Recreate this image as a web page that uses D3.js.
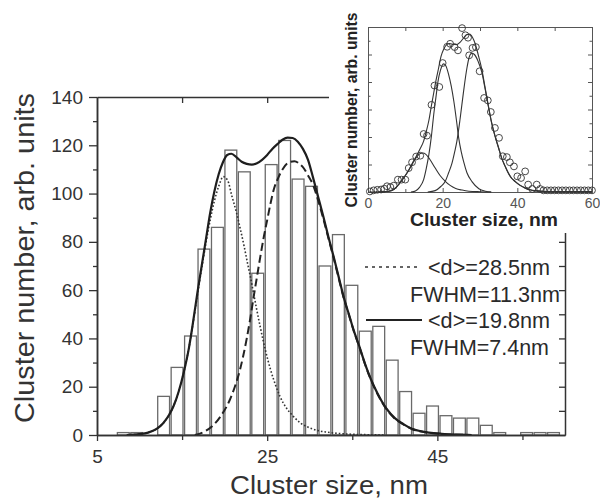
<!DOCTYPE html>
<html>
<head>
<meta charset="utf-8">
<script src="https://cdn.jsdelivr.net/npm/d3@7"></script>
<style>
body{margin:0;background:#fff}
svg{display:block}
text{font-family:"Liberation Sans",Arial,sans-serif}
</style>
</head>
<body>
<svg width="600" height="501"></svg>
<script>
// histogram bins (nm) and counts
const binEdges = [7.30, 8.88, 10.46, 12.04, 13.62, 15.20, 16.78, 18.36, 19.94, 21.52, 23.10, 24.68, 26.26, 27.84, 29.42, 31.00, 32.58, 34.16, 35.74, 37.32, 38.90, 40.48, 42.06, 43.64, 45.22, 46.80, 48.38, 49.96, 51.54, 53.12, 54.70, 56.28, 57.86, 59.44];
const counts = [1, 1, 0, 16, 28, 41, 77, 86, 118, 109, 67, 112, 122, 106, 103, 70, 83, 62, 43, 45, 31, 18, 9, 12, 8, 7, 7, 4, 1, 0, 1, 1, 1];

// fitted curves [size, count]
const sumCurve = [[8.5,0],[10,0.4],[11,1],[12,2.5],[12.8,5],[13.5,8.5],[14,12],[14.6,18],[15.2,26],[15.8,36],[16.3,47],[16.8,59],[17.3,70],[17.8,81],[18.3,92],[18.8,101],[19.3,108],[19.8,113],[20.3,116],[20.8,116.5],[21.4,115],[22,113.2],[22.6,112.3],[23.2,112],[23.8,112.6],[24.4,114],[25,116],[25.6,118.5],[26.2,120.5],[26.8,122.3],[27.4,123.2],[28,123],[28.6,121.5],[29.2,118.5],[29.8,114],[30.4,106.5],[31,98.5],[31.6,90.5],[32.2,82],[32.8,74],[33.4,65.5],[34,57],[34.6,50],[35.2,43],[35.8,37],[36.5,29.5],[37.2,23],[38,17],[39,11],[40,7],[41,4.5],[42,2.6],[43,1.6],[44,1],[45.5,0.5],[47.5,0.15],[49,0]];
const dashCurve = [[16.5,0],[17.5,1.2],[18.5,3.5],[19.5,7.6],[20.6,14.5],[21.2,20],[21.8,27],[22.2,33],[22.6,40],[23,48],[23.4,57],[23.8,65.5],[24.2,74],[24.6,82],[25,89],[25.4,96],[25.8,102],[26.3,106.5],[26.8,110],[27.5,112.8],[28.2,113.4],[28.8,112.3],[29.3,110.5],[29.8,107.5],[30.4,103.5],[31,97],[31.6,89.5],[32.2,81.5],[32.8,73.5],[33.4,65],[34,56.7],[34.6,49.8],[35.2,42.8],[35.8,36.8],[36.5,29.3],[37.2,22.8],[38,16.8],[39,10.8],[40,6.8],[41,4.4],[42,2.5],[43,1.5],[44,0.9],[45.5,0.4],[47.5,0.1],[49,0]];
const dotCurve = [[8.5,0],[10,0.4],[11,1],[12,2.5],[12.8,5],[13.5,8.5],[14,12],[14.6,18],[15.2,26],[15.8,36],[16.3,46.5],[16.8,58],[17.3,69],[17.8,79.5],[18.3,89],[18.8,97],[19.3,103],[19.85,107],[20.35,105.5],[20.85,99],[21.4,92],[21.8,86],[22.3,78],[22.7,71],[23,66],[23.6,55],[24.2,44.5],[24.8,35],[25.4,27],[26,20.5],[26.5,16],[27.3,11],[28.1,7.6],[28.9,5],[29.7,3.4],[30.8,2],[32,1.2],[33.5,0.6],[35,0.3],[37,0.1],[39,0]];

// axis ticks
const xMajor = [5, 25, 45];
const xMinor = [15, 35, 55];
const xTop = [15, 25, 35, 45, 55];
const yMajor = [0, 20, 40, 60, 80, 100, 120, 140];
const yMinor = [10, 30, 50, 70, 90, 110, 130];
const yRight = [10, 20, 30, 40, 50, 60, 70, 80, 90, 100, 110, 120, 130];

// legend
const legendMean = ["<d>=28.5nm", "<d>=19.8nm"];
const legendFwhm = ["FWHM=11.3nm", "FWHM=7.4nm"];

// inset: measured points and fits (size, arb. units)
const insetX = [0.5,1.5,2.5,3.5,4.4,5.1,6.0,6.9,8.0,9.0,10.0,10.9,11.8,12.9,14.0,14.9,15.8,17.0,17.8,19.1,20.0,21.2,22.0,23.2,24.1,25.2,26.1,26.8,27.1,28.0,28.9,29.9,31.1,32.1,32.9,34.0,35.1,36.1,37.2,38.0,39.1,40.0,41.0,42.1,42.9,44.0,45.2,46.1,47,48,49,50,51,52,53,54,55,56,57,58,59,60];
const insetY = [0.02,0.06,0.08,0.09,0.12,0.21,0.18,0.23,0.45,0.45,0.45,0.87,1.08,1.29,1.32,2.11,2.05,3.17,3.87,3.82,4.69,5.28,5.39,5.27,5.15,5.96,5.70,5.61,4.97,5.24,5.27,4.39,3.42,3.33,2.91,2.33,1.97,1.30,1.27,1.08,0.93,0.57,0.51,0.75,0.27,0.11,0.27,0.11,0.06,0.06,0.06,0.06,0.06,0.06,0.06,0.06,0.06,0.06,0.06,0.06,0.06,0.06];
const insetSum = [[0,0],[3,0.01],[5.5,0.03],[7,0.1],[8.2,0.27],[9.5,0.5],[10.9,0.8],[12,1.08],[13,1.32],[14,1.58],[14.9,1.85],[15.6,2.2],[16.3,2.6],[17,3.15],[17.6,3.6],[18.2,4.05],[18.9,4.5],[19.6,4.95],[20.3,5.2],[21,5.35],[21.8,5.4],[22.8,5.37],[23.8,5.36],[24.7,5.45],[25.6,5.6],[26.4,5.72],[27.2,5.74],[28,5.62],[28.7,5.4],[29.5,5.0],[30.5,4.45],[31.3,3.85],[32.2,3.17],[33,2.6],[34,2.05],[35,1.6],[35.8,1.24],[36.7,0.95],[37.6,0.69],[38.5,0.5],[39.4,0.39],[40.7,0.25],[42.1,0.15],[43.5,0.08],[44.7,0.05],[47,0.03],[52,0.02],[60,0.02]];
const insetA = [[3,0],[5.5,0.02],[7,0.1],[8.2,0.27],[9.5,0.5],[10.9,0.78],[12,1.05],[13,1.27],[14,1.4],[14.7,1.42],[15.5,1.37],[16.5,1.2],[18,0.87],[19.3,0.6],[20.7,0.39],[22,0.24],[23.5,0.13],[25.2,0.07],[27,0.03],[30,0.01],[33,0]];
const insetB = [[11.5,0],[12.7,0.04],[13.8,0.17],[14.9,0.45],[15.6,0.85],[16.3,1.36],[17,2.05],[17.6,2.81],[18.2,3.45],[18.75,4.02],[19.4,4.42],[20.2,4.66],[20.8,4.6],[21.6,4.27],[22.3,3.85],[23,3.29],[23.7,2.6],[24.3,1.96],[25,1.45],[25.6,1.11],[26.5,0.7],[27.9,0.37],[29.7,0.12],[31.5,0.03],[33,0]];
const insetC = [[16,0],[18,0.05],[19.5,0.2],[20.7,0.39],[21.6,0.7],[22.5,1.05],[23.2,1.45],[23.8,1.84],[24.7,2.69],[25.6,3.66],[26.5,4.51],[27.1,4.9],[27.8,5.05],[28.5,5.0],[29.5,4.75],[30.5,4.35],[31.3,3.8],[32.2,3.14],[33,2.58],[34,2.04],[35,1.59],[35.8,1.23],[36.7,0.94],[37.6,0.68],[38.5,0.49],[39.4,0.38],[40.7,0.24],[42.1,0.14],[43.5,0.07],[44.7,0.04],[47,0.02],[52,0.01],[60,0.01]];
const insetXTicks = [0, 20, 40, 60];
const insetXMinor = [10, 30, 50];
const insetYTicks = [0, 1, 2, 3, 4, 5, 6];
const insetYMinor = [0.5, 1.5, 2.5, 3.5, 4.5, 5.5];

const svg = d3.select("svg");

// main scales
const x = d3.scaleLinear().domain([5, 60]).range([97, 565]);
const y = d3.scaleLinear().domain([0, 140]).range([435, 97]);

// bars
const bins = counts.map((c, i) => ({x0: binEdges[i], x1: binEdges[i + 1], c: c})).filter(d => d.c > 0);
svg.append("g").selectAll("rect")
  .data(bins)
  .enter()
  .append("rect")
  .attr("x", d => x(d.x0) + 0.8)
  .attr("width", d => x(d.x1) - x(d.x0) - 1.6)
  .attr("y", d => y(d.c))
  .attr("height", d => y(0) - y(d.c))
  .attr("fill", "#fff")
  .attr("stroke", "#6a6a6a")
  .attr("stroke-width", 1.3);

// curves
const line = d3.line().x(d => x(d[0])).y(d => y(d[1])).curve(d3.curveMonotoneX);
svg.append("path").attr("d", line(dotCurve)).attr("fill", "none")
  .attr("stroke", "#333").attr("stroke-width", 1.6).attr("stroke-dasharray", "1.6,2");
svg.append("path").attr("d", line(dashCurve)).attr("fill", "none")
  .attr("stroke", "#222").attr("stroke-width", 2).attr("stroke-dasharray", "8,4");
svg.append("path").attr("d", line(sumCurve)).attr("fill", "none")
  .attr("stroke", "#1e1e1e").attr("stroke-width", 2.2);

// axes
function styleAxis(g, fs) {
  g.select(".domain").attr("stroke", "#333").attr("stroke-width", 1.5);
  g.selectAll(".tick line").attr("stroke", "#333").attr("stroke-width", 1.3);
  g.selectAll(".tick text").attr("fill", "#333").style("font-size", fs + "px")
    .style("font-family", "'Liberation Sans',Arial,sans-serif");
}
styleAxis(svg.append("g").attr("transform", "translate(0,435)")
  .call(d3.axisBottom(x).tickValues(xMajor).tickSize(6).tickSizeOuter(0).tickPadding(9).tickFormat(d3.format("d"))), 19);
styleAxis(svg.append("g").attr("transform", "translate(0,435)")
  .call(d3.axisBottom(x).tickValues(xMinor).tickSize(5).tickSizeOuter(0).tickFormat("")), 19);
styleAxis(svg.append("g").attr("transform", "translate(0,97)")
  .call(d3.axisTop(x).tickValues(xTop).tickSize(-6).tickSizeOuter(0).tickFormat("")), 19);
styleAxis(svg.append("g").attr("transform", "translate(97,0)")
  .call(d3.axisLeft(y).tickValues(yMajor).tickSize(8).tickSizeOuter(0).tickPadding(6)), 19);
styleAxis(svg.append("g").attr("transform", "translate(97,0)")
  .call(d3.axisLeft(y).tickValues(yMinor).tickSize(4).tickSizeOuter(0).tickFormat("")), 19);
styleAxis(svg.append("g").attr("transform", "translate(565,0)")
  .call(d3.axisRight(y).tickValues(yRight).tickSize(-6).tickSizeOuter(0).tickFormat("")), 19);

// axis titles
svg.append("text").attr("transform", "translate(34,258) rotate(-90)")
  .attr("text-anchor", "middle").attr("fill", "#333").style("font-size", "28px")
  .attr("textLength", 330).attr("lengthAdjust", "spacingAndGlyphs")
  .text("Cluster number, arb. units");
svg.append("text").attr("x", 329).attr("y", 494)
  .attr("text-anchor", "middle").attr("fill", "#333").style("font-size", "25px")
  .attr("textLength", 198).attr("lengthAdjust", "spacingAndGlyphs")
  .text("Cluster size, nm");

// legend
svg.append("line").attr("x1", 365).attr("x2", 420).attr("y1", 267).attr("y2", 267)
  .attr("stroke", "#333").attr("stroke-width", 1.5).attr("stroke-dasharray", "3,4");
svg.append("line").attr("x1", 366).attr("x2", 422).attr("y1", 320).attr("y2", 320)
  .attr("stroke", "#222").attr("stroke-width", 2);
const legendG = svg.append("g").attr("fill", "#2a2a2a").style("font-size", "22px").attr("text-anchor", "end");
legendG.selectAll("text.mean").data(legendMean).enter().append("text").attr("class", "mean")
  .attr("x", 550).attr("y", (d, i) => i === 0 ? 275 : 328)
  .attr("textLength", 122).attr("lengthAdjust", "spacingAndGlyphs").text(d => d);
legendG.selectAll("text.fwhm").data(legendFwhm).enter().append("text").attr("class", "fwhm")
  .attr("x", (d, i) => i === 0 ? 560 : 549).attr("y", (d, i) => i === 0 ? 302 : 355)
  .attr("textLength", (d, i) => i === 0 ? 150 : 139).attr("lengthAdjust", "spacingAndGlyphs").text(d => d);

// inset background
svg.append("rect").attr("x", 329).attr("y", 0).attr("width", 271).attr("height", 233).attr("fill", "#fff");

// inset
const ix = d3.scaleLinear().domain([0, 60]).range([368, 592]);
const iy = d3.scaleLinear().domain([0, 6]).range([192, 27]);
const inset = svg.append("g");

function styleInset(g) {
  g.select(".domain").attr("stroke", "#555").attr("stroke-width", 1);
  g.selectAll(".tick line").attr("stroke", "#555").attr("stroke-width", 1);
  g.selectAll(".tick text").attr("fill", "#555").style("font-size", "14px")
    .style("font-family", "'Liberation Sans',Arial,sans-serif");
}
styleInset(inset.append("g").attr("transform", "translate(0,192)")
  .call(d3.axisBottom(ix).tickValues(insetXTicks).tickSize(-4).tickSizeOuter(0).tickPadding(6)));
styleInset(inset.append("g").attr("transform", "translate(0,192)")
  .call(d3.axisBottom(ix).tickValues(insetXMinor).tickSize(-3).tickSizeOuter(0).tickFormat("")));
styleInset(inset.append("g").attr("transform", "translate(0,27)")
  .call(d3.axisTop(ix).tickValues(insetXTicks.concat(insetXMinor)).tickSize(-4).tickSizeOuter(0).tickFormat("")));
styleInset(inset.append("g").attr("transform", "translate(368,0)")
  .call(d3.axisLeft(iy).tickValues(insetYTicks).tickSize(-4).tickSizeOuter(0).tickFormat("")));
styleInset(inset.append("g").attr("transform", "translate(368,0)")
  .call(d3.axisLeft(iy).tickValues(insetYMinor).tickSize(-2.5).tickSizeOuter(0).tickFormat("")));
styleInset(inset.append("g").attr("transform", "translate(592,0)")
  .call(d3.axisRight(iy).tickValues(insetYTicks).tickSize(-4).tickSizeOuter(0).tickFormat("")));
styleInset(inset.append("g").attr("transform", "translate(592,0)")
  .call(d3.axisRight(iy).tickValues(insetYMinor).tickSize(-2.5).tickSizeOuter(0).tickFormat("")));

const iline = d3.line().x(d => ix(d[0])).y(d => iy(d[1])).curve(d3.curveMonotoneX);
inset.selectAll("path.fit")
  .data([insetA, insetB, insetC, insetSum])
  .enter()
  .append("path")
  .attr("class", "fit")
  .attr("d", iline)
  .attr("fill", "none")
  .attr("stroke", "#333")
  .attr("stroke-width", 1.1);

inset.selectAll("circle")
  .data(insetX)
  .enter()
  .append("circle")
  .attr("cx", d => ix(d))
  .attr("cy", (d, i) => iy(insetY[i]))
  .attr("r", 3.4)
  .attr("fill", "none")
  .attr("stroke", "#333")
  .attr("stroke-width", 0.9);

inset.append("text").attr("transform", "translate(357,110) rotate(-90)")
  .attr("text-anchor", "middle").attr("fill", "#222").style("font-size", "16px").style("font-weight", "bold")
  .attr("textLength", 195).attr("lengthAdjust", "spacingAndGlyphs")
  .text("Cluster number, arb. units");
inset.append("text").attr("x", 484).attr("y", 226)
  .attr("text-anchor", "middle").attr("fill", "#222").style("font-size", "18px").style("font-weight", "bold")
  .attr("textLength", 148).attr("lengthAdjust", "spacingAndGlyphs")
  .text("Cluster size, nm");
</script>
</body>
</html>
